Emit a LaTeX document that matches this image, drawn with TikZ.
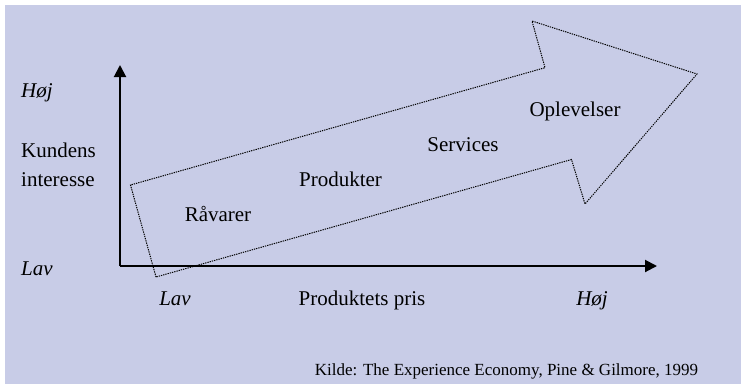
\documentclass[tikz,border=0pt]{standalone}
\usepackage{fontspec}
\setmainfont{Liberation Serif}
\usetikzlibrary{arrows.meta}
\definecolor{bgblue}{RGB}{200,204,231}
\tikzset{
  axis/.style={line width=2pt, -{Triangle[length=12pt,width=12pt]}},
  flow/.style={line width=1pt, dash pattern=on 1.3pt off 1pt, line join=miter},
  lbl/.style={inner sep=0pt, anchor=base, font=\fontsize{21}{25}\selectfont},
  lbll/.style={inner sep=0pt, anchor=base west, font=\fontsize{21}{25}\selectfont},
  src/.style={inner sep=0pt, anchor=base, font=\fontsize{17}{20}\selectfont}
}
\begin{document}
\begin{tikzpicture}[x=1pt,y=-1pt]
\useasboundingbox (0,0) rectangle (741,384);
\fill[white] (0,0) rectangle (741,384);
\fill[bgblue] (5,5) rectangle (741,384);
% big dotted arrow
\coordinate (a1) at (156,277);
\coordinate (a2) at (130.5,185);
\coordinate (a3) at (545,67.7);
\coordinate (a4) at (532,21);
\coordinate (a5) at (697,74);
\coordinate (a6) at (585,204);
\coordinate (a7) at (571.5,159.5);
\draw[flow] (a1) -- (a2) -- (a3) -- (a4) -- (a5) -- (a6) -- (a7) -- cycle;
% axes
\coordinate (o) at (120,266);
\coordinate (ytop) at (120,65);
\coordinate (xend) at (657,266);
\draw[axis] (o) -- (ytop);
\draw[axis] (o) -- (xend);
% left labels
\node[lbll] (yhi) at (21,97.5) {\itshape Høj};
\node[lbll] (yl1) at (21,157) {Kundens};
\node[lbll] (yl2) at (21,186.5) {interesse};
\node[lbll] (ylo) at (21,275) {\itshape Lav};
% bottom labels
\node[lbl] (xlo) at (175,305) {\itshape Lav};
\node[lbl] (xl) at (362,305) {Produktets pris};
\node[lbl] (xhi) at (592,305) {\itshape Høj};
% stages
\node[lbl] (s1) at (218,221) {Råvarer};
\node[lbl] (s2) at (340.5,186) {Produkter};
\node[lbl] (s3) at (463,151) {Services};
\node[lbl] (s4) at (575,116) {Oplevelser};
% source
\node[src] (kilde) at (506.5,375.5) {Kilde: The Experience Economy, Pine \& Gilmore, 1999};
\end{tikzpicture}
\end{document}
